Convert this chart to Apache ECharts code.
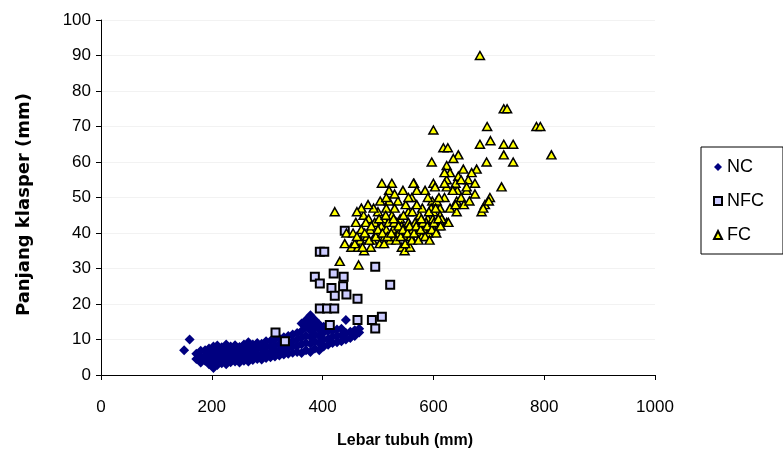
<!DOCTYPE html>
<html>
<head>
<meta charset="utf-8">
<script src="https://cdn.jsdelivr.net/npm/echarts@6/dist/echarts.min.js"></script>
<style>html,body{margin:0;padding:0;background:#fff;}#chart{width:783px;height:458px;}</style>
</head>
<body>
<div id="chart"></div>
<script>
const seriesNames = ['NC', 'NFC', 'FC'];
const xTicks = [0, 200, 400, 600, 800, 1000];
const yTicks = [0, 10, 20, 30, 40, 50, 60, 70, 80, 90, 100];

const ncPoints = [
  [150,7],[160,10],
  [172,4.5],[172,6],
  [180,3.5],[180,5],[180,6.8],
  [188,4],[188,5.5],[188,7],
  [195,3],[195,4.5],[195,6],[195,7.5],
  [203,2],[203,3.5],[203,5],[203,6.5],[203,8],
  [210,2.8],[210,4.2],[210,5.8],[210,7.2],[210,8.3],
  [218,3.3],[218,4.8],[218,6.2],[218,7.8],
  [226,3],[226,4.5],[226,6],[226,7.5],[226,8.6],
  [234,3.6],[234,5],[234,6.4],[234,8],
  [242,3.8],[242,5.3],[242,6.8],[242,8.4],
  [250,3.5],[250,5],[250,6.5],[250,7.9],
  [258,4],[258,5.4],[258,7],[258,8.6],
  [266,3.8],[266,5.2],[266,6.7],[266,8.2],[266,9.2],
  [274,4.2],[274,5.7],[274,7.2],[274,8.6],
  [282,4.5],[282,6],[282,7.5],[282,9],
  [290,4.4],[290,5.8],[290,7.3],[290,8.8],
  [298,4.8],[298,6.3],[298,7.8],[298,9.5],
  [306,5],[306,6.5],[306,8],[306,9.6],
  [314,5.2],[314,6.8],[314,8.3],[314,10],
  [322,5.5],[322,7],[322,8.6],[322,10.3],
  [330,5.8],[330,7.3],[330,9],[330,10.6],
  [338,6],[338,7.6],[338,9.2],[338,11],
  [346,6.3],[346,8],[346,9.6],[346,11.4],
  [354,6.5],[354,8.2],[354,10],[354,11.8],
  [362,6.2],[362,8.6],[362,10.5],[362,12.4],[362,14.5],
  [370,7],[370,9],[370,11],[370,13.5],[370,15.5],
  [378,6.5],[378,8.8],[378,10.8],[378,12.5],[378,14.5],[378,16.8],
  [386,7.5],[386,9.5],[386,11.5],[386,13.5],[386,15.5],
  [394,7],[394,9],[394,11],[394,12.8],[394,14.2],
  [402,8],[402,10],[402,12],[402,13.6],
  [410,8.5],[410,10.2],[410,12.3],
  [418,9],[418,10.8],[418,12.5],
  [426,9.2],[426,11],[426,12.8],
  [434,9.5],[434,11.2],[434,13],
  [442,10],[442,11.8],[442,15.5],
  [450,10.4],[450,12.2],
  [458,11],[458,12.6],
  [466,12],[466,13]
];

const nfcPoints = [
  [315,12],[332,9.5],[386,27.7],[395,25.8],[395,34.7],[403,34.7],[440,40.6],
  [420,28.6],[438,27.7],[416,24.5],[422,22.3],[437,25],[443,22.7],[463,21.5],
  [395,18.7],[408,18.7],[421,18.7],[413,14.1],[463,15.5],[489,15.5],[507,16.4],
  [495,13.1],[495,30.5],[522,25.4]
];

const fcPoints = [
  [684,90],[727,75],[733,75],[786,70],[793,70],[697,70],[600,69],[813,62],
  [684,65],[703,66],[727,65],[744,65],[727,62],[744,60],
  [618,64],[626,64],[645,62],[597,60],[624,59],[636,61],[696,60],
  [654,58],[678,58],[669,57],[600,54],[624,55],[630,57],[645,56],[663,55],[675,54],[723,53],[565,54],
  [643,52],[660,52],[675,51],[624,53],[702,50],[693,48],[687,46],[642,46],[612,47],[624,43],[627,43],
  [690,47],[700,49],
  [422,46],[431,32],[465,31],[440,37],[443,40],[452,36],[464,36],[475,35],[487,36],[543,36],[548,35],[558,36],
  [507,54],[525,54],[564,54],[603,53],[620,54],[640,54],[660,53],
  [504,49],[520,49],[536,49],[561,50],[585,52],[598,49],[620,50],[642,49],
  [474,45],[483,44],[500,46],[510,44],[525,45],[540,44],[555,46],[575,45],[590,44],[600,46],
  [455,40],[460,43],[468,38],[470,41],[478,43],[480,39],[486,41],[490,38],[494,43],[498,40],
  [503,37],[506,42],[512,39],[515,41],[519,43],[522,38],[527,41],[531,39],[534,43],[538,40],
  [543,42],[547,39],[551,41],[555,43],[559,39],[563,41],[567,43],[571,40],[575,42],[579,39],
  [583,41],[587,43],[591,40],[595,42],[599,44],[603,41],[607,43],[612,45],
  [580,47],[570,48],[550,48],[530,47],[515,47],[492,47],[596,47],[606,49],
  [610,42],[615,44],[630,47],[640,48],[650,50],[655,48],[665,49],[610,50],[635,52],[650,55],[620,57],
  [458,37],[462,39],[472,36],[476,40],[484,38],[488,42],[496,39],[500,41],[508,40],[511,37],
  [517,39],[524,40],[529,43],[533,38],[537,42],[541,39],[545,41],[549,37],[553,40],[557,42],
  [561,38],[565,40],[569,42],[573,38],[577,41],[581,43],[585,39],[589,42],[593,38],[597,41],
  [601,43],[605,40],[609,44],[613,42],[502,44],[514,45],[528,44],[546,45],[562,46],[578,44],
  [592,46],[604,47],[520,52],[530,51],[545,52],[555,50],[570,52],[590,50],[515,50],[482,48],
  [470,47],[462,46]
];

const FONT = 'Liberation Sans';
const chart = echarts.init(document.getElementById('chart'), null, {renderer: 'canvas'});
chart.setOption({
  animation: false,
  backgroundColor: '#fff',
  textStyle: {fontFamily: FONT, color: '#000'},
  grid: {left: 101, right: 128, top: 20, bottom: 83, containLabel: false},
  legend: {
    orient: 'vertical',
    left: 701, top: 147,
    padding: [11, 19, 10, 12],
    itemGap: 16,
    itemWidth: 8, itemHeight: 8,
    borderColor: '#000', borderWidth: 1,
    textStyle: {fontFamily: FONT, fontSize: 18, color: '#000', lineHeight: 16},
    data: seriesNames
  },
  xAxis: {
    type: 'value', min: xTicks[0], max: xTicks[xTicks.length - 1], interval: 200,
    name: 'Lebar tubuh (mm)', nameLocation: 'middle', nameGap: 58,
    nameTextStyle: {fontFamily: FONT, fontSize: 16, fontWeight: 'bold', color: '#000', padding: [0, 0, 0, 54]},
    axisLine: {show: true, lineStyle: {color: '#000', width: 1}},
    axisTick: {show: true, inside: false, length: 5, lineStyle: {color: '#000'}},
    axisLabel: {fontFamily: FONT, fontSize: 17, color: '#000', margin: 24, formatter: function (v) { return String(v); }},
    splitLine: {show: false}
  },
  yAxis: {
    type: 'value', min: yTicks[0], max: yTicks[yTicks.length - 1], interval: 10,
    name: 'Panjang klasper (mm)', nameLocation: 'middle', nameGap: 68, nameRotate: 90,
    nameTextStyle: {fontFamily: 'DejaVu Sans', fontSize: 18, fontWeight: 'bold', color: '#000', padding: [0, 14, 0, 0]},
    axisLine: {show: true, lineStyle: {color: '#000', width: 1}},
    axisTick: {show: true, inside: false, length: 5, lineStyle: {color: '#000'}},
    axisLabel: {fontFamily: FONT, fontSize: 17, color: '#000', margin: 10},
    splitLine: {show: true, lineStyle: {color: '#f2f2f2', width: 1}}
  },
  series: [
    {
      name: seriesNames[0], type: 'scatter', symbol: 'diamond', symbolSize: 10,
      itemStyle: {color: '#000080', opacity: 1},
      data: ncPoints, z: 2
    },
    {
      name: seriesNames[1], type: 'scatter', symbol: 'rect', symbolSize: 8,
      itemStyle: {color: '#ccccff', borderColor: '#000', borderWidth: 2, opacity: 1},
      data: nfcPoints, z: 3
    },
    {
      name: seriesNames[2], type: 'scatter', symbol: 'triangle', symbolSize: [9, 8],
      itemStyle: {color: '#ffff00', borderColor: '#000', borderWidth: 1.5, opacity: 1},
      data: fcPoints, z: 4
    }
  ]
});
</script>
</body>
</html>
